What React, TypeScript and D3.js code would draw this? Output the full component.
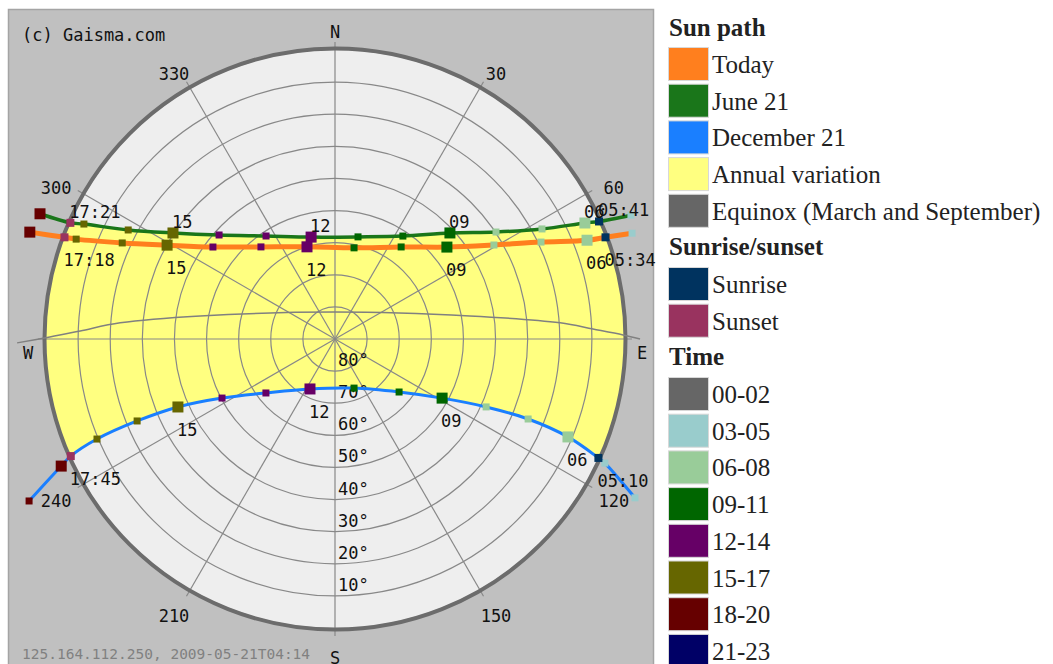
import { useMemo } from "react";
import * as d3 from "d3";

const WIDTH = 1053;
const HEIGHT = 664;
const CX = 335;
const CY = 339;
const R = 289;

// sun positions: azimuth / altitude in degrees, one entry per hour
const TODAY_HOURS = [5, 6, 7, 8, 9, 10, 11, 12, 13, 14, 15, 16, 17, 18];
const TODAY_AZ = [70.4, 68.6, 64.8, 59.4, 50.6, 35.7, 11.8, 343.1, 321.2, 307.0, 299.2, 294.3, 291.1, 289.3];
const TODAY_ALT = [-8.2, 5.7, 19.1, 32.5, 44.9, 54.7, 61.0, 60.0, 53.2, 42.4, 30.1, 17.3, 3.6, -10.7];
const TODAY_EVENTS = [
  { time: 5.57, az: 69.4, label: "05:34", kind: "rise" },
  { time: 17.3, az: 290.6, label: "17:18", kind: "set" },
];

const JUNE_HOURS = [5, 6, 7, 8, 9, 10, 11, 12, 13, 14, 15, 16, 17, 18];
const JUNE_AZ = [67.3, 65.1, 62.0, 56.4, 47.3, 33.4, 12.7, 346.8, 326.2, 311.9, 303.2, 297.8, 294.6, 293.0];
const JUNE_ALT = [-9.9, 4.2, 17.0, 29.8, 41.3, 51.6, 57.4, 57.4, 51.4, 41.5, 29.7, 17.2, 4.0, -9.8];
const JUNE_EVENTS = [
  { time: 5.68, az: 66.0, label: "05:41", kind: "rise" },
  { time: 17.35, az: 293.7, label: "17:21", kind: "set" },
];

const DEC_HOURS = [4, 5, 6, 7, 8, 9, 10, 11, 12, 13, 14, 15, 16, 17, 18, 19];
const DEC_AZ = [117.9, 114.7, 112.8, 112.5, 114.2, 118.9, 129.6, 158.8, 206.6, 232.0, 242.4, 246.6, 247.5, 247.2, 245.1, 242.1];
const DEC_ALT = [-15.7, -2.5, 11.3, 24.9, 38.4, 51.9, 64.1, 73.6, 72.6, 62.7, 50.3, 36.7, 23.3, 9.6, -4.0, -17.8];
const DEC_EVENTS = [
  { time: 5.17, az: 114.3, label: "05:10", kind: "rise" },
  { time: 17.75, az: 246.1, label: "17:45", kind: "set" },
];

// equinox path, west to east
const EQUINOX_AZ = [269.3, 270.4, 271.8, 274.3, 279.7, 0, 80.3, 85.9, 87.8, 89.2, 90];
const EQUINOX_ALT = [-9.0, 1.2, 10.6, 22.9, 47.4, 81.6, 47.4, 19.7, 9.6, 0.3, -5.0];

const RING_ALTS = [10, 20, 30, 40, 50, 60, 70, 80];
const AZ_TICKS = [0, 30, 60, 90, 120, 150, 180, 210, 240, 270, 300, 330];
const CARDINALS: Record<number, string> = { 0: "N", 90: "E", 180: "S", 270: "W" };
const LABEL_HOURS = [6, 9, 12, 15];

const PATH_LABELS = ["Today", "June 21", "December 21", "Annual variation", "Equinox (March and September)"];
const PATH_COLORS = ["#ff7f1e", "#1a761a", "#1a7fff", "#ffff80", "#666666"];
const EVENT_LABELS = ["Sunrise", "Sunset"];
const EVENT_COLORS = ["#00335f", "#99335f"];
const TIME_LABELS = ["00-02", "03-05", "06-08", "09-11", "12-14", "15-17", "18-20", "21-23"];
const TIME_COLORS = ["#666666", "#99cccc", "#99cc99", "#006600", "#660066", "#666600", "#660000", "#000066"];

const MONO = "'DejaVu Sans Mono', monospace";
const SERIF = "'Liberation Serif', 'Times New Roman', serif";

const rScale = d3.scaleLinear().domain([90, 0]).range([0, R]);

const project = (az: number, alt: number): [number, number] => {
  const r = rScale(alt);
  const a = (az * Math.PI) / 180;
  return [CX + r * Math.sin(a), CY - r * Math.cos(a)];
};

type Pt = { t: number; az: number; alt: number; kind: string; hour?: number; label?: string };

const buildPath = (hours: number[], az: number[], alt: number[], events: any[]): Pt[] => {
  const pts: Pt[] = hours.map((h, i) => ({ t: h, az: az[i], alt: alt[i], kind: "hour", hour: h }));
  events.forEach(e => pts.push({ t: e.time, az: e.az, alt: 0, kind: e.kind, label: e.label }));
  return pts.sort((a, b) => a.t - b.t);
};

export default function App() {
  const paths = useMemo(() => {
    const line = d3.line<[number, number]>().curve(d3.curveCatmullRom.alpha(0.5));
    const mk = (pts: Pt[]) => line(pts.map(p => project(p.az, p.alt)))!;
    const today = buildPath(TODAY_HOURS, TODAY_AZ, TODAY_ALT, TODAY_EVENTS);
    const june = buildPath(JUNE_HOURS, JUNE_AZ, JUNE_ALT, JUNE_EVENTS);
    const dec = buildPath(DEC_HOURS, DEC_AZ, DEC_ALT, DEC_EVENTS);
    const band = mk(june) + "L" + mk([...dec].reverse()).slice(1) + "Z";
    const equinox = line(EQUINOX_AZ.map((a, i) => project(a, EQUINOX_ALT[i])))!;
    return {
      band,
      equinox,
      series: [
        { key: "dec", pts: dec, d: mk(dec), color: PATH_COLORS[2], width: 3, labelDy: 23 },
        { key: "june", pts: june, d: mk(june), color: PATH_COLORS[1], width: 3.5, labelDy: -11 },
        { key: "today", pts: today, d: mk(today), color: PATH_COLORS[0], width: 5, labelDy: 23 },
      ],
    };
  }, []);

  const rowH = 36.7;

  return (
    <svg width={WIDTH} height={HEIGHT} style={{ position: "absolute", left: 0, top: 0 }}>
      <rect x={0} y={0} width={WIDTH} height={HEIGHT} fill="#ffffff" />
      {/* chart panel */}
      <rect x={8.5} y={9.5} width={645} height={670} fill="#c0c0c0" stroke="#a4a4a4" strokeWidth={1.5} />
      <defs>
        <clipPath id="sky">
          <circle cx={CX} cy={CY} r={R} />
        </clipPath>
      </defs>
      <circle cx={CX} cy={CY} r={R} fill="#eeeeee" />
      <path d={paths.band} fill="#ffff80" clipPath="url(#sky)" />

      {/* altitude rings */}
      {RING_ALTS.map(a => (
        <circle key={a} cx={CX} cy={CY} r={rScale(a)} fill="none" stroke="#888" strokeWidth={1.2} />
      ))}
      {/* azimuth lines */}
      {AZ_TICKS.map(a => {
        const [x, y] = project(a, -2.5);
        return <line key={a} x1={CX} y1={CY} x2={x} y2={y} stroke="#888" strokeWidth={1.2} />;
      })}
      <circle cx={CX} cy={CY} r={R + 1.5} fill="none" stroke="#6c6c6c" strokeWidth={4} />

      <path d={paths.equinox} fill="none" stroke="#808080" strokeWidth={1.5} />

      {/* ring labels */}
      {RING_ALTS.map(a => (
        <text key={a} x={CX + 3} y={CY + rScale(a) - 5} fontFamily={MONO} fontSize={17} fill="#111">
          {a}°
        </text>
      ))}

      {/* azimuth labels */}
      {AZ_TICKS.map(a => {
        const rad = (a * Math.PI) / 180;
        const card = CARDINALS[a];
        let x = CX + 322 * Math.sin(rad);
        let y = CY - 313 * Math.cos(rad) + 6;
        if (card === "E" || card === "W") {
          x = CX + 307 * Math.sin(rad);
          y = CY + 14;
        }
        return (
          <text key={a} x={x} y={y} dy="0.35em" textAnchor="middle" fontFamily={MONO} fontSize={17} fill="#111">
            {card ?? a}
          </text>
        );
      })}

      {/* sun paths */}
      {paths.series.map(s => (
        <path key={s.key} d={s.d} fill="none" stroke={s.color} strokeWidth={s.width} strokeLinejoin="round" />
      ))}

      {/* hour markers */}
      {paths.series.map(s =>
        s.pts.map((p, i) => {
          const [x, y] = project(p.az, p.alt);
          let size = 7;
          let color = "#000";
          if (p.kind === "hour") {
            size = p.hour! % 3 === 0 ? 11 : 7;
            color = TIME_COLORS[Math.floor(p.hour! / 3)];
          } else {
            size = 8;
            color = p.kind === "rise" ? EVENT_COLORS[0] : EVENT_COLORS[1];
          }
          return <rect key={`${s.key}-${i}`} x={x - size / 2} y={y - size / 2} width={size} height={size} fill={color} />;
        })
      )}

      {/* hour & sunrise/sunset labels */}
      {paths.series.map(s =>
        s.pts
          .filter(p => (p.kind === "hour" && LABEL_HOURS.includes(p.hour!)) || p.kind !== "hour")
          .map((p, i) => {
            const [x, y] = project(p.az, p.alt);
            const text = p.kind === "hour" ? String(p.hour).padStart(2, "0") : p.label;
            return (
              <text key={`${s.key}-l-${i}`} x={x - 1} y={y + s.labelDy + 6} fontFamily={MONO} fontSize={17} fill="#111">
                {text}
              </text>
            );
          })
      )}

      <text x={22} y={41} fontFamily={MONO} fontSize={17} fill="#111">(c) Gaisma.com</text>
      <text x={22} y={659} fontFamily={MONO} fontSize={14.5} fill="#808080">
        125.164.112.250, 2009-05-21T04:14
      </text>

      {/* legend */}
      <g fontFamily={SERIF} fontSize={25} fill="#222">
        <text x={669} y={36} fontWeight="bold">Sun path</text>
        {PATH_LABELS.map((l, i) => (
          <g key={l} transform={`translate(668, ${47 + i * rowH})`}>
            <rect x={0.5} y={0.5} width={40} height={33} fill={PATH_COLORS[i]} stroke="#d8d8d8" />
            <text x={44} y={26}>{l}</text>
          </g>
        ))}
        <text x={669} y={255} fontWeight="bold">Sunrise/sunset</text>
        {EVENT_LABELS.map((l, i) => (
          <g key={l} transform={`translate(668, ${267 + i * rowH})`}>
            <rect x={0.5} y={0.5} width={40} height={33} fill={EVENT_COLORS[i]} stroke="#d8d8d8" />
            <text x={44} y={26}>{l}</text>
          </g>
        ))}
        <text x={669} y={365} fontWeight="bold">Time</text>
        {TIME_LABELS.map((l, i) => (
          <g key={l} transform={`translate(668, ${377 + i * rowH})`}>
            <rect x={0.5} y={0.5} width={40} height={33} fill={TIME_COLORS[i]} stroke="#d8d8d8" />
            <text x={44} y={26}>{l}</text>
          </g>
        ))}
      </g>
    </svg>
  );
}
